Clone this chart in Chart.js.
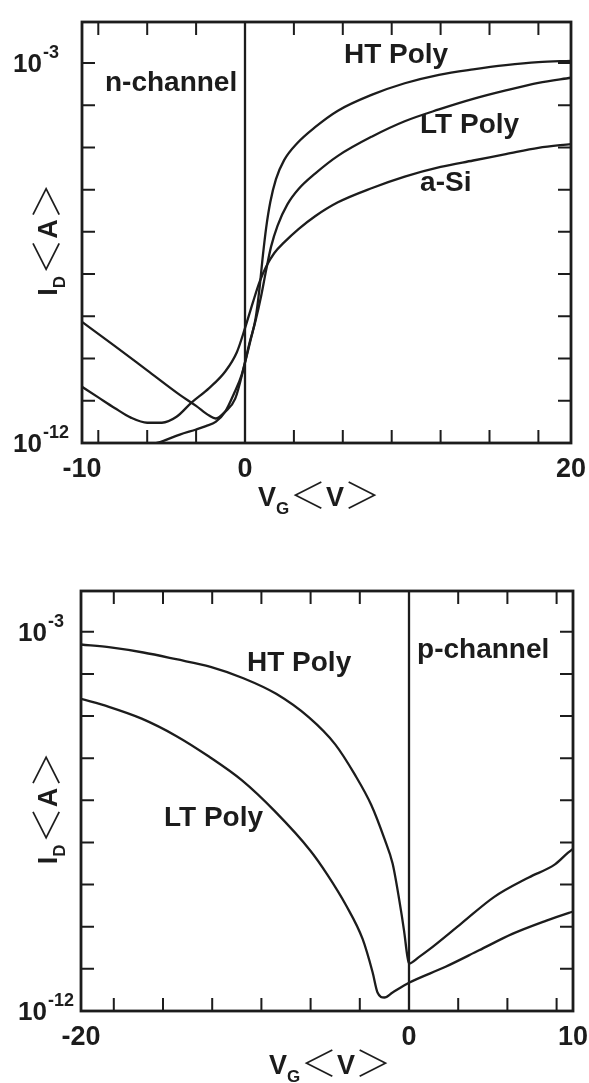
<!DOCTYPE html>
<html lang="en">
<head>
  <meta charset="UTF-8">
  <title>TFT transfer characteristics</title>
  <!-- Chart.js -->
  <script src="https://cdn.jsdelivr.net/npm/chart.js"></script>
  <style>
    body { margin: 0; background: #ffffff; }
    canvas { display: block; }
  </style>
</head>
<body>
  <canvas id="nChart" width="589" height="540"></canvas>
  <canvas id="pChart" width="589" height="543"></canvas>

<script>
// ---- n-channel panel: V_G (V) and log10 of I_D (A) ----
const nHtV    = [-10, -8, -6, -4, -3, -2.2, -1.8, -1.2, -0.6, 0, 0.35, 0.65, 0.9, 1.1, 1.3, 1.55, 1.9, 2.4, 3.2, 4.3, 5.7, 7.8, 9.8, 11.9, 14, 16, 18, 20];
const nHtLogI = [-9.13, -9.7, -10.28, -10.86, -11.12, -11.35, -11.42, -11.25, -10.95, -10.1, -9.55, -9.05, -8.3, -7.55, -6.9, -6.3, -5.75, -5.3, -4.9, -4.52, -4.13, -3.75, -3.48, -3.28, -3.15, -3.05, -2.98, -2.95];

const nLtV    = [-7, -6, -5, -4, -3, -2.4, -1.8, -1.2, -0.7, -0.2, 0.3, 0.65, 1.0, 1.3, 1.6, 2.0, 2.6, 3.3, 4.3, 5.7, 7.8, 9.8, 11.9, 14, 16, 18, 20];
const nLtLogI = [-12.3, -12.08, -11.95, -11.8, -11.68, -11.6, -11.5, -11.25, -10.85, -10.38, -9.6, -9.1, -8.5, -7.9, -7.35, -6.85, -6.35, -5.98, -5.62, -5.2, -4.74, -4.38, -4.1, -3.85, -3.65, -3.47, -3.35];

const nSiV    = [-10, -9, -8, -7, -6, -5.1, -4.2, -3.3, -2.2, -1.2, -0.5, 0, 0.5, 0.9, 1.3, 1.8, 2.4, 3.3, 4.3, 5.7, 7.8, 9.8, 12, 14, 16, 18, 20];
const nSiLogI = [-10.67, -10.92, -11.17, -11.4, -11.52, -11.52, -11.38, -11.05, -10.7, -10.3, -9.85, -9.28, -8.65, -8.18, -7.82, -7.5, -7.25, -6.93, -6.63, -6.3, -5.96, -5.69, -5.46, -5.31, -5.16, -5.01, -4.92];

const nTickV  = [-9, -6, -3, 3, 6, 9, 12, 15, 18];
const nLabelV = [-10, 0, 20];
const nNoteText = ['n-channel', 'HT Poly', 'LT Poly', 'a-Si'];
const nNoteV    = [-8.59, 6.07, 10.74, 10.74];
const nNoteLogI = [-3.67, -3.0, -4.66, -6.03];

// ---- p-channel panel ----
const pHtV    = [-20, -18.2, -16.2, -14.2, -12.1, -10.1, -8.1, -6.1, -4.5, -3.3, -2.3, -1.5, -1.0, -0.6, -0.3, -0.1, 0, 0.6, 1.2, 3.2, 5.2, 7.3, 8.9, 9.7, 10];
const pHtLogI = [-3.30, -3.37, -3.49, -3.65, -3.83, -4.10, -4.47, -5.03, -5.67, -6.39, -7.11, -7.91, -8.5, -9.35, -10.1, -10.7, -10.87, -10.72, -10.55, -9.92, -9.29, -8.83, -8.52, -8.24, -8.15];

const pLtV    = [-20, -18.3, -16.3, -14.2, -12.2, -10.2, -8.2, -6.0, -5.0, -3.84, -2.83, -2.22, -1.92, -1.5, -1.0, 0, 2.23, 4.27, 6.3, 8.34, 9.75, 10];
const pLtLogI = [-4.59, -4.78, -5.06, -5.47, -5.96, -6.52, -7.25, -8.2, -8.75, -9.49, -10.29, -11.08, -11.56, -11.68, -11.56, -11.33, -10.95, -10.56, -10.17, -9.86, -9.67, -9.64];

const pTickV  = [-18, -15, -12, -9, -6, -3, 3, 6, 9];
const pLabelV = [-20, 0, 10];
const pNoteText = ['p-channel', 'HT Poly', 'LT Poly'];
const pNoteV    = [0.49, -9.88, -14.94];
const pNoteLogI = [-3.62, -3.93, -7.61];

// shared log axis: decade ticks and the two labelled decades
const decadeTicks = [-11, -10, -9, -8, -7, -6, -5, -4, -3];
const decadeLabels = [-3, -12];

const INK = '#1c1c1c';
const FONT = '"Liberation Sans", Arial, Helvetica, sans-serif';
const bold = s => `bold ${s}px ${FONT}`;
const BRACKET = `300 36px "Noto Sans CJK JP", "Noto Sans CJK SC", sans-serif`;
const TICK = 13;

// draw a run of text pieces (sub/superscripts, brackets) centred on cx
function drawParts(ctx, parts, cx, baseY) {
  let total = 0;
  parts.forEach(p => { ctx.font = p.font; p.w = ctx.measureText(p.t).width; total += p.w + (p.gap || 0); });
  let x = cx - total / 2;
  ctx.textAlign = 'left';
  ctx.textBaseline = 'alphabetic';
  parts.forEach(p => {
    ctx.font = p.font;
    ctx.fillText(p.t, x, baseY + (p.dy || 0));
    x += p.w + (p.gap || 0);
  });
}

function titleParts(main, sub, inner) {
  return [
    { t: main, font: bold(27) },
    { t: sub, font: bold(17), dy: 8, gap: 1 },
    { t: '＜', font: BRACKET, dy: 3 },
    { t: inner, font: bold(27) },
    { t: '＞', font: BRACKET, dy: 3 }
  ];
}

// axes frame, inward ticks, labels and notes, all placed through the chart scales
function framePlugin(cfg) {
  return {
    id: 'frame',
    afterDraw(chart) {
      const { ctx, chartArea: a, scales: { x, y } } = chart;
      ctx.save();
      ctx.strokeStyle = INK;
      ctx.fillStyle = INK;

      ctx.lineWidth = 2;
      ctx.beginPath();
      cfg.ticks.forEach(v => {
        const px = x.getPixelForValue(v);
        ctx.moveTo(px, a.bottom); ctx.lineTo(px, a.bottom - TICK);
        ctx.moveTo(px, a.top); ctx.lineTo(px, a.top + TICK);
      });
      decadeTicks.forEach(e => {
        const py = y.getPixelForValue(10 ** e);
        ctx.moveTo(a.left, py); ctx.lineTo(a.left + TICK, py);
        ctx.moveTo(a.right, py); ctx.lineTo(a.right - TICK, py);
      });
      ctx.stroke();

      // V_G = 0 line
      const x0 = x.getPixelForValue(0);
      ctx.lineWidth = 2.3;
      ctx.beginPath();
      ctx.moveTo(x0, a.top); ctx.lineTo(x0, a.bottom);
      ctx.stroke();

      ctx.lineWidth = 2.8;
      ctx.strokeRect(a.left, a.top, a.right - a.left, a.bottom - a.top);

      // x tick labels
      ctx.font = bold(27);
      ctx.textAlign = 'center';
      ctx.textBaseline = 'alphabetic';
      cfg.labels.forEach(v => ctx.fillText(String(v), x.getPixelForValue(v), a.bottom + 34));

      // 10^n labels
      decadeLabels.forEach(e => {
        const py = y.getPixelForValue(10 ** e);
        ctx.textAlign = 'left';
        ctx.font = bold(26);
        ctx.fillText('10', cfg.yLabelLeft, py + 9);
        const w = ctx.measureText('10').width;
        ctx.font = bold(18);
        ctx.fillText('-' + (-e), cfg.yLabelLeft + w + 1, py - 5);
      });

      // axis titles
      drawParts(ctx, titleParts('V', 'G', 'V'), cfg.titleX, a.bottom + 63);
      ctx.save();
      ctx.translate(57, (a.top + a.bottom) / 2 + 7);
      ctx.rotate(-Math.PI / 2);
      drawParts(ctx, titleParts('I', 'D', 'A'), 0, 0);
      ctx.restore();

      // curve notes
      ctx.font = bold(28);
      ctx.textAlign = 'left';
      cfg.notes.text.forEach((t, i) => {
        ctx.fillText(t, x.getPixelForValue(cfg.notes.v[i]), y.getPixelForValue(10 ** cfg.notes.logI[i]));
      });
      ctx.restore();
    }
  };
}

function curve(name, v, logI) {
  return {
    label: name,
    data: v.map((vg, i) => ({ x: vg, y: 10 ** logI[i] })),
    borderColor: INK,
    borderWidth: 2.3,
    pointRadius: 0,
    fill: false,
    cubicInterpolationMode: 'monotone'
  };
}

function makeChart(id, cfg) {
  return new Chart(document.getElementById(id), {
    type: 'line',
    data: { datasets: cfg.series },
    options: {
      responsive: false,
      animation: false,
      layout: { padding: cfg.padding },
      plugins: { legend: { display: false }, tooltip: { enabled: false } },
      scales: {
        x: { type: 'linear', min: cfg.xMin, max: cfg.xMax, display: false },
        y: { type: 'logarithmic', min: 1e-12, max: 10 ** -2.03, display: false }
      }
    },
    plugins: [framePlugin(cfg)]
  });
}

makeChart('nChart', {
  series: [
    curve('HT Poly', nHtV, nHtLogI),
    curve('LT Poly', nLtV, nLtLogI),
    curve('a-Si', nSiV, nSiLogI)
  ],
  xMin: -10, xMax: 20,
  padding: { left: 82, right: 18, top: 22, bottom: 97 },
  ticks: nTickV, labels: nLabelV,
  yLabelLeft: 13, titleX: 319,
  notes: { text: nNoteText, v: nNoteV, logI: nNoteLogI }
});

makeChart('pChart', {
  series: [
    curve('HT Poly', pHtV, pHtLogI),
    curve('LT Poly', pLtV, pLtLogI)
  ],
  xMin: -20, xMax: 10,
  padding: { left: 81, right: 16, top: 51, bottom: 72 },
  ticks: pTickV, labels: pLabelV,
  yLabelLeft: 18, titleX: 330,
  notes: { text: pNoteText, v: pNoteV, logI: pNoteLogI }
});
</script>
</body>
</html>
